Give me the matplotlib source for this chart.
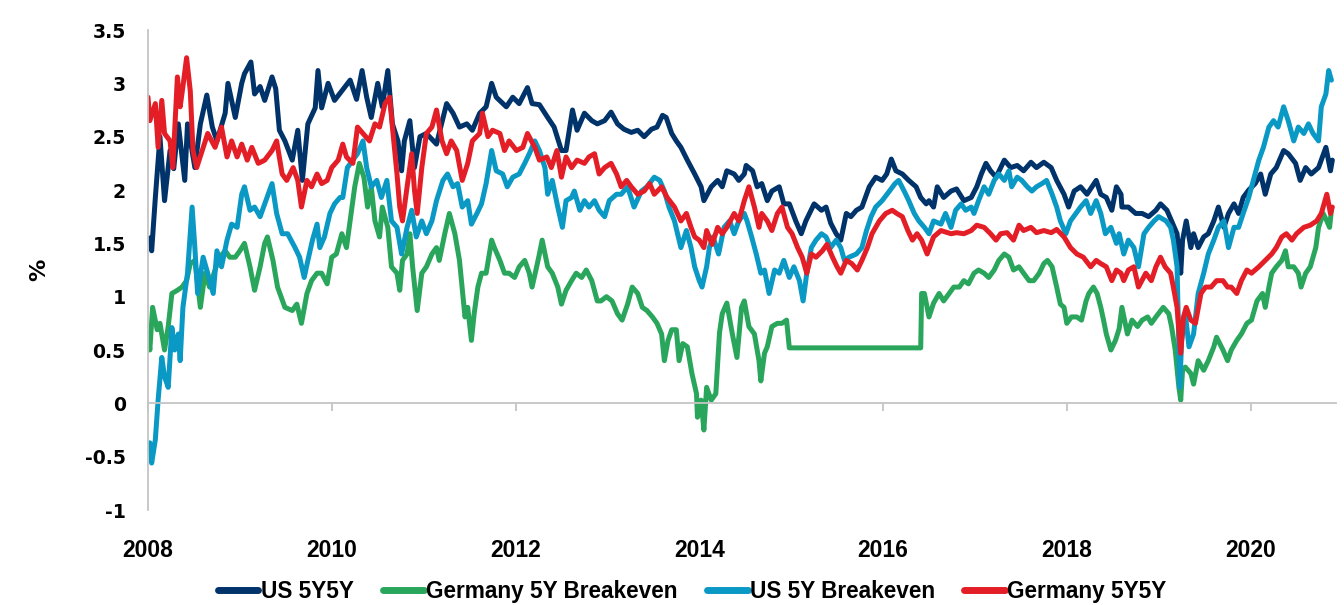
import matplotlib
matplotlib.use("Agg")
import matplotlib.pyplot as plt

# ---------------- data ----------------
us5y5y_dates = [2008.02, 2008.04, 2008.08, 2008.13, 2008.18, 2008.24, 2008.28, 2008.33, 2008.40, 2008.43,
                2008.51, 2008.57, 2008.64, 2008.70, 2008.75, 2008.84, 2008.87, 2008.95, 2009.02, 2009.05,
                2009.12, 2009.16, 2009.22, 2009.27, 2009.35, 2009.39, 2009.43, 2009.49, 2009.57, 2009.63,
                2009.68, 2009.74, 2009.82, 2009.85, 2009.89, 2009.96, 2010.03, 2010.11, 2010.20, 2010.27,
                2010.33, 2010.38, 2010.43, 2010.50, 2010.55, 2010.61, 2010.66, 2010.72, 2010.76, 2010.79,
                2010.85, 2010.90, 2010.96, 2011.03, 2011.14, 2011.25, 2011.32, 2011.39, 2011.47, 2011.53,
                2011.61, 2011.68, 2011.74, 2011.79, 2011.90, 2011.97, 2012.04, 2012.13, 2012.18, 2012.26,
                2012.35, 2012.42, 2012.50, 2012.55, 2012.59, 2012.62, 2012.67, 2012.75, 2012.83, 2012.89,
                2012.97, 2013.04, 2013.11, 2013.18, 2013.26, 2013.33, 2013.40, 2013.48, 2013.54, 2013.60,
                2013.64, 2013.70, 2013.75, 2013.80, 2013.87, 2013.95, 2014.02, 2014.05, 2014.13, 2014.20,
                2014.25, 2014.30, 2014.38, 2014.43, 2014.49, 2014.51, 2014.58, 2014.63, 2014.68, 2014.74,
                2014.79, 2014.87, 2014.92, 2014.98, 2015.05, 2015.11, 2015.16, 2015.25, 2015.33, 2015.38,
                2015.43, 2015.49, 2015.54, 2015.60, 2015.65, 2015.71, 2015.77, 2015.85, 2015.92, 2015.99,
                2016.04, 2016.09, 2016.14, 2016.21, 2016.28, 2016.36, 2016.41, 2016.47, 2016.50, 2016.55,
                2016.59, 2016.66, 2016.74, 2016.80, 2016.88, 2016.96, 2017.02, 2017.07, 2017.12, 2017.17,
                2017.23, 2017.32, 2017.39, 2017.46, 2017.53, 2017.61, 2017.67, 2017.75, 2017.83, 2017.89,
                2017.97, 2018.02, 2018.08, 2018.15, 2018.22, 2018.32, 2018.37, 2018.43, 2018.49, 2018.54,
                2018.59, 2018.60, 2018.67, 2018.75, 2018.82, 2018.89, 2018.97, 2019.02, 2019.09, 2019.14,
                2019.20, 2019.24, 2019.26, 2019.30, 2019.35, 2019.38, 2019.43, 2019.49, 2019.54, 2019.60,
                2019.65, 2019.71, 2019.76, 2019.82, 2019.87, 2019.92, 2019.98, 2020.05, 2020.11, 2020.16,
                2020.22, 2020.28, 2020.36, 2020.41, 2020.49, 2020.54, 2020.60, 2020.66, 2020.74, 2020.82,
                2020.87, 2020.89]
us5y5y_vals = [1.55, 1.43, 1.93, 2.50, 1.90, 2.37, 2.20, 2.62, 2.09, 2.62,
               2.21, 2.62, 2.89, 2.59, 2.46, 2.72, 3.00, 2.68, 3.00, 3.09,
               3.20, 2.90, 2.97, 2.84, 3.06, 2.95, 2.56, 2.46, 2.28, 2.56,
               2.09, 2.62, 2.77, 3.12, 2.77, 3.00, 2.84, 2.93, 3.03, 2.85,
               3.12, 2.87, 2.68, 3.00, 2.78, 3.12, 2.62, 2.46, 2.18, 2.46,
               2.65, 2.21, 2.50, 2.53, 2.43, 2.81, 2.72, 2.59, 2.62, 2.56,
               2.72, 2.78, 3.00, 2.87, 2.78, 2.87, 2.81, 2.96, 2.81, 2.80,
               2.68, 2.59, 2.37, 2.37, 2.59, 2.75, 2.56, 2.72, 2.65, 2.62,
               2.65, 2.73, 2.62, 2.57, 2.54, 2.56, 2.50, 2.57, 2.59, 2.70,
               2.68, 2.53, 2.46, 2.40, 2.28, 2.15, 2.03, 1.90, 2.03, 2.09,
               2.03, 2.18, 2.15, 2.09, 2.15, 2.23, 2.18, 2.03, 2.06, 1.90,
               1.99, 2.03, 1.87, 1.87, 1.71, 1.59, 1.71, 1.87, 1.81, 1.84,
               1.69, 1.59, 1.53, 1.78, 1.75, 1.81, 1.84, 2.03, 2.12, 2.09,
               2.15, 2.29, 2.18, 2.15, 2.09, 2.03, 1.93, 1.87, 1.90, 1.84,
               2.03, 1.93, 1.99, 2.01, 1.90, 1.93, 2.03, 2.15, 2.25, 2.18,
               2.12, 2.28, 2.21, 2.23, 2.18, 2.26, 2.21, 2.26, 2.21, 2.09,
               1.96, 1.84, 1.99, 2.03, 1.96, 2.09, 1.96, 1.93, 1.81, 2.03,
               1.96, 1.84, 1.84, 1.78, 1.78, 1.75, 1.81, 1.87, 1.81, 1.71,
               1.59, 1.22, 1.53, 1.71, 1.46, 1.59, 1.46, 1.56, 1.59, 1.71,
               1.84, 1.65, 1.78, 1.87, 1.78, 1.93, 2.00, 2.06, 2.15, 1.96,
               2.15, 2.21, 2.37, 2.34, 2.25, 2.09, 2.21, 2.15, 2.21, 2.40,
               2.18, 2.28]

de5ybe_dates = [2008.00, 2008.02, 2008.05, 2008.10, 2008.13, 2008.18, 2008.22, 2008.26, 2008.32, 2008.37,
                2008.42, 2008.46, 2008.51, 2008.57, 2008.62, 2008.67, 2008.73, 2008.78, 2008.84, 2008.89,
                2008.95, 2009.00, 2009.05, 2009.11, 2009.16, 2009.22, 2009.27, 2009.30, 2009.36, 2009.41,
                2009.49, 2009.57, 2009.62, 2009.67, 2009.73, 2009.78, 2009.84, 2009.89, 2009.95, 2010.00,
                2010.05, 2010.11, 2010.16, 2010.20, 2010.25, 2010.30, 2010.35, 2010.39, 2010.43, 2010.47,
                2010.52, 2010.55, 2010.61, 2010.65, 2010.71, 2010.74, 2010.77, 2010.82, 2010.85, 2010.88,
                2010.93, 2010.98, 2011.03, 2011.09, 2011.14, 2011.17, 2011.23, 2011.28, 2011.34, 2011.39,
                2011.45, 2011.48, 2011.52, 2011.55, 2011.59, 2011.63, 2011.68, 2011.74, 2011.77, 2011.83,
                2011.88, 2011.93, 2011.99, 2012.04, 2012.10, 2012.15, 2012.18, 2012.23, 2012.26, 2012.29,
                2012.35, 2012.40, 2012.46, 2012.50, 2012.55, 2012.61, 2012.66, 2012.72, 2012.77, 2012.83,
                2012.89, 2012.93, 2012.99, 2013.05, 2013.11, 2013.16, 2013.22, 2013.27, 2013.33, 2013.38,
                2013.43, 2013.49, 2013.54, 2013.59, 2013.62, 2013.66, 2013.70, 2013.75, 2013.78, 2013.82,
                2013.87, 2013.92, 2013.97, 2013.98, 2014.02, 2014.05, 2014.08, 2014.13, 2014.18, 2014.22,
                2014.25, 2014.30, 2014.36, 2014.41, 2014.46, 2014.49, 2014.54, 2014.60, 2014.65, 2014.67,
                2014.71, 2014.74, 2014.79, 2014.85, 2014.90, 2014.95, 2014.98, 2016.41, 2016.42, 2016.45,
                2016.48, 2016.50, 2016.55, 2016.61, 2016.66, 2016.72, 2016.77, 2016.83, 2016.88, 2016.93,
                2016.99, 2017.04, 2017.10, 2017.15, 2017.21, 2017.26, 2017.32, 2017.37, 2017.42, 2017.48,
                2017.53, 2017.59, 2017.64, 2017.70, 2017.75, 2017.79, 2017.84, 2017.89, 2017.93, 2017.97,
                2018.00, 2018.05, 2018.11, 2018.16, 2018.21, 2018.24, 2018.29, 2018.33, 2018.37, 2018.40,
                2018.43, 2018.48, 2018.53, 2018.57, 2018.60, 2018.66, 2018.71, 2018.77, 2018.82, 2018.88,
                2018.92, 2018.97, 2019.05, 2019.11, 2019.14, 2019.18, 2019.22, 2019.24, 2019.26, 2019.29,
                2019.35, 2019.38, 2019.43, 2019.49, 2019.54, 2019.60, 2019.63, 2019.70, 2019.75, 2019.79,
                2019.85, 2019.90, 2019.96, 2020.01, 2020.07, 2020.13, 2020.16, 2020.20, 2020.23, 2020.28,
                2020.34, 2020.38, 2020.41, 2020.47, 2020.52, 2020.55, 2020.60, 2020.65, 2020.71, 2020.74,
                2020.79, 2020.83, 2020.86, 2020.88]
de5ybe_vals = [0.66, 0.50, 0.90, 0.69, 0.75, 0.50, 0.72, 1.03, 1.06, 1.09,
               1.15, 1.31, 1.34, 0.90, 1.22, 1.09, 1.25, 1.37, 1.43, 1.37,
               1.37, 1.43, 1.50, 1.28, 1.06, 1.28, 1.50, 1.56, 1.34, 1.09,
               0.90, 0.87, 0.93, 0.75, 1.03, 1.15, 1.22, 1.22, 1.12, 1.37,
               1.40, 1.59, 1.46, 1.71, 2.03, 2.25, 2.12, 1.84, 2.03, 1.71,
               1.56, 1.84, 1.65, 1.28, 1.22, 1.06, 1.34, 1.40, 1.59, 1.28,
               0.87, 1.22, 1.28, 1.40, 1.46, 1.34, 1.59, 1.78, 1.59, 1.34,
               0.81, 0.90, 0.59, 0.84, 1.09, 1.22, 1.22, 1.53, 1.46, 1.34,
               1.22, 1.22, 1.18, 1.28, 1.34, 1.22, 1.09, 1.28, 1.40, 1.53,
               1.28, 1.22, 1.09, 0.93, 1.06, 1.15, 1.22, 1.18, 1.25, 1.15,
               0.96, 0.96, 1.00, 0.96, 0.84, 0.78, 0.93, 1.09, 1.03, 0.90,
               0.87, 0.81, 0.75, 0.65, 0.40, 0.59, 0.69, 0.69, 0.40, 0.56,
               0.53, 0.28, 0.09, -0.13, 0.03, -0.25, 0.15, 0.03, 0.09, 0.66,
               0.84, 0.94, 0.65, 0.43, 0.90, 0.96, 0.72, 0.65, 0.40, 0.21,
               0.47, 0.53, 0.72, 0.75, 0.75, 0.78, 0.52, 0.52, 1.03, 1.03,
               0.90, 0.81, 0.94, 1.03, 0.96, 1.03, 1.09, 1.09, 1.15, 1.12,
               1.22, 1.25, 1.22, 1.18, 1.25, 1.34, 1.40, 1.37, 1.25, 1.28,
               1.22, 1.15, 1.15, 1.22, 1.31, 1.34, 1.28, 1.09, 0.93, 0.90,
               0.75, 0.81, 0.81, 0.78, 0.96, 1.03, 1.09, 1.03, 0.90, 0.78,
               0.65, 0.50, 0.59, 0.70, 0.90, 0.65, 0.78, 0.72, 0.78, 0.81,
               0.75, 0.81, 0.90, 0.84, 0.72, 0.50, 0.15, 0.03, 0.31, 0.34,
               0.28, 0.18, 0.40, 0.31, 0.40, 0.53, 0.62, 0.50, 0.40, 0.50,
               0.59, 0.65, 0.75, 0.78, 0.96, 1.03, 0.90, 1.09, 1.22, 1.28,
               1.34, 1.43, 1.28, 1.28, 1.22, 1.09, 1.22, 1.28, 1.46, 1.65,
               1.78, 1.71, 1.65, 1.81]

us5ybe_dates = [2008.02, 2008.04, 2008.08, 2008.11, 2008.15, 2008.18, 2008.22, 2008.26, 2008.29, 2008.33,
                2008.35, 2008.38, 2008.43, 2008.48, 2008.51, 2008.54, 2008.60, 2008.65, 2008.71, 2008.75,
                2008.80, 2008.86, 2008.91, 2008.97, 2009.02, 2009.05, 2009.11, 2009.16, 2009.22, 2009.27,
                2009.35, 2009.40, 2009.46, 2009.52, 2009.60, 2009.65, 2009.70, 2009.74, 2009.79, 2009.84,
                2009.87, 2009.92, 2009.98, 2010.03, 2010.09, 2010.12, 2010.17, 2010.23, 2010.28, 2010.34,
                2010.38, 2010.43, 2010.49, 2010.54, 2010.60, 2010.65, 2010.71, 2010.76, 2010.82, 2010.87,
                2010.92, 2010.98, 2011.03, 2011.09, 2011.14, 2011.21, 2011.26, 2011.32, 2011.37, 2011.42,
                2011.48, 2011.52, 2011.58, 2011.63, 2011.68, 2011.74, 2011.79, 2011.86, 2011.91, 2011.97,
                2012.04, 2012.10, 2012.15, 2012.21, 2012.26, 2012.32, 2012.35, 2012.40, 2012.46, 2012.51,
                2012.55, 2012.61, 2012.64, 2012.70, 2012.75, 2012.80, 2012.86, 2012.91, 2012.97, 2013.02,
                2013.10, 2013.15, 2013.22, 2013.29, 2013.37, 2013.43, 2013.51, 2013.57, 2013.62, 2013.67,
                2013.73, 2013.80, 2013.86, 2013.91, 2013.95, 2014.00, 2014.03, 2014.08, 2014.11, 2014.15,
                2014.21, 2014.27, 2014.33, 2014.38, 2014.43, 2014.49, 2014.52, 2014.57, 2014.62, 2014.67,
                2014.71, 2014.76, 2014.82, 2014.87, 2014.92, 2014.98, 2015.03, 2015.09, 2015.13, 2015.17,
                2015.22, 2015.27, 2015.33, 2015.38, 2015.43, 2015.49, 2015.54, 2015.58, 2015.63, 2015.71,
                2015.77, 2015.82, 2015.87, 2015.92, 2015.99, 2016.07, 2016.13, 2016.17, 2016.23, 2016.28,
                2016.34, 2016.39, 2016.45, 2016.50, 2016.55, 2016.63, 2016.68, 2016.74, 2016.79, 2016.85,
                2016.90, 2016.96, 2016.99, 2017.04, 2017.10, 2017.15, 2017.21, 2017.26, 2017.32, 2017.37,
                2017.40, 2017.46, 2017.51, 2017.57, 2017.62, 2017.67, 2017.73, 2017.78, 2017.84, 2017.89,
                2017.93, 2017.99, 2018.04, 2018.10, 2018.15, 2018.21, 2018.26, 2018.32, 2018.37, 2018.42,
                2018.48, 2018.54, 2018.57, 2018.62, 2018.67, 2018.73, 2018.78, 2018.84, 2018.89, 2018.95,
                2019.00, 2019.08, 2019.13, 2019.16, 2019.20, 2019.23, 2019.25, 2019.29, 2019.33, 2019.38,
                2019.43, 2019.49, 2019.54, 2019.60, 2019.65, 2019.71, 2019.76, 2019.82, 2019.87, 2019.92,
                2019.98, 2020.03, 2020.09, 2020.14, 2020.20, 2020.25, 2020.30, 2020.36, 2020.41, 2020.47,
                2020.52, 2020.58, 2020.63, 2020.68, 2020.74, 2020.77, 2020.82, 2020.85, 2020.88]
us5ybe_vals = [-0.37, -0.56, -0.34, 0.03, 0.43, 0.25, 0.15, 0.71, 0.50, 0.65,
               0.40, 0.90, 1.22, 1.84, 1.46, 1.03, 1.37, 1.22, 1.03, 1.43,
               1.28, 1.53, 1.68, 1.65, 1.96, 2.03, 1.81, 1.84, 1.75, 1.87,
               2.06, 1.78, 1.59, 1.59, 1.46, 1.37, 1.18, 1.34, 1.53, 1.68,
               1.46, 1.56, 1.78, 1.87, 1.93, 1.93, 2.21, 2.28, 2.34, 2.46,
               2.21, 2.03, 2.09, 1.93, 2.09, 1.71, 1.65, 1.40, 1.65, 1.81,
               1.56, 1.71, 1.59, 1.71, 1.90, 2.09, 2.15, 2.03, 2.06, 1.84,
               1.90, 1.68, 1.78, 1.87, 2.06, 2.37, 2.18, 2.15, 2.03, 2.12,
               2.15, 2.25, 2.34, 2.46, 2.37, 2.21, 1.96, 2.09, 1.84, 1.65,
               1.90, 1.93, 1.99, 1.81, 1.90, 1.84, 1.90, 1.81, 1.75, 1.90,
               1.96, 1.96, 2.03, 1.84, 1.99, 2.03, 2.12, 2.09, 1.99, 1.84,
               1.71, 1.46, 1.62, 1.46, 1.28, 1.15, 1.09, 1.28, 1.46, 1.56,
               1.40, 1.65, 1.71, 1.59, 1.71, 1.78, 1.71, 1.56, 1.40, 1.22,
               1.25, 1.03, 1.25, 1.22, 1.34, 1.18, 1.28, 1.15, 0.96, 1.22,
               1.46, 1.53, 1.59, 1.56, 1.46, 1.53, 1.46, 1.34, 1.37, 1.40,
               1.46, 1.62, 1.75, 1.84, 1.90, 1.99, 2.06, 2.09, 1.99, 1.90,
               1.78, 1.71, 1.65, 1.59, 1.71, 1.68, 1.78, 1.65, 1.81, 1.87,
               1.81, 1.84, 1.78, 1.90, 2.03, 1.96, 2.09, 2.15, 2.09, 2.18,
               2.03, 2.12, 2.09, 2.03, 1.99, 2.03, 2.06, 2.09, 1.96, 1.84,
               1.71, 1.59, 1.71, 1.78, 1.84, 1.90, 1.78, 1.90, 1.78, 1.59,
               1.65, 1.50, 1.59, 1.40, 1.53, 1.46, 1.28, 1.59, 1.65, 1.71,
               1.75, 1.71, 1.65, 1.53, 1.28, 0.15, 0.59, 0.84, 0.53, 0.65,
               1.03, 1.22, 1.40, 1.53, 1.65, 1.71, 1.46, 1.65, 1.65, 1.78,
               1.93, 2.09, 2.28, 2.40, 2.59, 2.65, 2.59, 2.78, 2.65, 2.46,
               2.59, 2.53, 2.62, 2.53, 2.46, 2.78, 2.90, 3.12, 3.03]

de5y5y_dates = [2008.00, 2008.02, 2008.08, 2008.11, 2008.15, 2008.18, 2008.24, 2008.27, 2008.32, 2008.35,
                2008.38, 2008.42, 2008.46, 2008.49, 2008.53, 2008.59, 2008.65, 2008.73, 2008.80, 2008.86,
                2008.91, 2008.97, 2009.02, 2009.08, 2009.13, 2009.20, 2009.27, 2009.35, 2009.40, 2009.46,
                2009.51, 2009.58, 2009.63, 2009.67, 2009.73, 2009.78, 2009.84, 2009.89, 2009.95, 2010.00,
                2010.07, 2010.12, 2010.16, 2010.23, 2010.28, 2010.34, 2010.41, 2010.47, 2010.52, 2010.58,
                2010.63, 2010.66, 2010.71, 2010.74, 2010.77, 2010.82, 2010.87, 2010.90, 2010.93, 2010.98,
                2011.03, 2011.09, 2011.14, 2011.20, 2011.25, 2011.30, 2011.36, 2011.42, 2011.48, 2011.53,
                2011.61, 2011.64, 2011.70, 2011.75, 2011.83, 2011.88, 2011.93, 2012.01, 2012.08, 2012.13,
                2012.21, 2012.26, 2012.34, 2012.39, 2012.45, 2012.50, 2012.55, 2012.61, 2012.67, 2012.75,
                2012.80, 2012.86, 2012.91, 2012.97, 2013.04, 2013.10, 2013.15, 2013.21, 2013.26, 2013.33,
                2013.40, 2013.46, 2013.51, 2013.59, 2013.65, 2013.73, 2013.80, 2013.86, 2013.91, 2013.95,
                2014.00, 2014.05, 2014.08, 2014.14, 2014.20, 2014.25, 2014.30, 2014.38, 2014.43, 2014.49,
                2014.54, 2014.60, 2014.65, 2014.68, 2014.74, 2014.79, 2014.85, 2014.90, 2014.96, 2015.01,
                2015.07, 2015.12, 2015.17, 2015.22, 2015.27, 2015.34, 2015.39, 2015.45, 2015.50, 2015.54,
                2015.60, 2015.66, 2015.72, 2015.77, 2015.83, 2015.88, 2015.96, 2016.03, 2016.10, 2016.15,
                2016.21, 2016.27, 2016.32, 2016.37, 2016.42, 2016.48, 2016.55, 2016.63, 2016.74, 2016.80,
                2016.88, 2016.96, 2017.02, 2017.10, 2017.17, 2017.23, 2017.28, 2017.35, 2017.42, 2017.48,
                2017.53, 2017.61, 2017.67, 2017.75, 2017.83, 2017.89, 2017.97, 2018.04, 2018.11, 2018.18,
                2018.26, 2018.32, 2018.37, 2018.43, 2018.49, 2018.54, 2018.59, 2018.62, 2018.67, 2018.73,
                2018.78, 2018.86, 2018.92, 2018.97, 2019.02, 2019.07, 2019.13, 2019.16, 2019.20, 2019.24,
                2019.27, 2019.30, 2019.35, 2019.40, 2019.46, 2019.51, 2019.57, 2019.63, 2019.70, 2019.75,
                2019.79, 2019.85, 2019.90, 2019.96, 2020.01, 2020.09, 2020.16, 2020.23, 2020.28, 2020.34,
                2020.39, 2020.45, 2020.50, 2020.58, 2020.65, 2020.72, 2020.77, 2020.83, 2020.87, 2020.89]
de5y5y_vals = [2.87, 2.65, 2.81, 2.40, 2.84, 2.53, 2.46, 2.21, 3.06, 2.78,
               2.97, 3.24, 2.93, 2.37, 2.21, 2.37, 2.53, 2.40, 2.59, 2.31,
               2.46, 2.31, 2.43, 2.28, 2.40, 2.25, 2.28, 2.37, 2.46, 2.15,
               2.09, 2.21, 2.09, 1.84, 2.09, 2.03, 2.15, 2.06, 2.09, 2.21,
               2.28, 2.43, 2.31, 2.25, 2.59, 2.53, 2.46, 2.62, 2.59, 2.81,
               2.87, 2.59, 2.15, 1.84, 1.71, 2.03, 2.34, 2.00, 1.78, 2.21,
               2.53, 2.59, 2.75, 2.46, 2.34, 2.46, 2.37, 2.09, 2.25, 2.46,
               2.53, 2.72, 2.50, 2.56, 2.53, 2.37, 2.46, 2.37, 2.40, 2.53,
               2.40, 2.28, 2.31, 2.21, 2.37, 2.12, 2.31, 2.21, 2.28, 2.25,
               2.31, 2.34, 2.15, 2.21, 2.25, 2.15, 2.03, 2.09, 2.03, 1.96,
               1.99, 2.06, 1.96, 2.03, 1.93, 1.84, 1.71, 1.78, 1.65, 1.56,
               1.53, 1.46, 1.62, 1.49, 1.65, 1.59, 1.65, 1.78, 1.71, 1.90,
               2.03, 1.84, 1.65, 1.78, 1.71, 1.62, 1.78, 1.84, 1.65, 1.59,
               1.46, 1.37, 1.22, 1.40, 1.37, 1.43, 1.49, 1.37, 1.28, 1.22,
               1.34, 1.31, 1.25, 1.34, 1.46, 1.59, 1.71, 1.78, 1.81, 1.78,
               1.75, 1.62, 1.53, 1.59, 1.53, 1.40, 1.56, 1.62, 1.59, 1.60,
               1.59, 1.62, 1.67, 1.65, 1.59, 1.53, 1.59, 1.60, 1.53, 1.67,
               1.62, 1.65, 1.60, 1.62, 1.60, 1.63, 1.56, 1.46, 1.40, 1.37,
               1.28, 1.34, 1.31, 1.28, 1.15, 1.25, 1.22, 1.15, 1.25, 1.28,
               1.09, 1.22, 1.15, 1.28, 1.37, 1.28, 1.22, 1.09, 0.90, 0.47,
               0.81, 0.90, 0.78, 0.75, 1.03, 1.09, 1.09, 1.15, 1.15, 1.09,
               1.09, 1.03, 1.15, 1.25, 1.22, 1.28, 1.34, 1.40, 1.46, 1.56,
               1.59, 1.53, 1.59, 1.65, 1.67, 1.71, 1.78, 1.96, 1.78, 1.84]

series_names = ["US 5Y5Y", "Germany 5Y Breakeven", "US 5Y Breakeven", "Germany 5Y5Y"]
series_colors = ["#00336A", "#2AA65C", "#0A98C4", "#E31E26"]
year_ticks = [2008, 2010, 2012, 2014, 2016, 2018, 2020]
year_labels = ["2008", "2010", "2012", "2014", "2016", "2018", "2020"]
y_ticks = [-1, -0.5, 0, 0.5, 1, 1.5, 2, 2.5, 3, 3.5]
y_labels = ["-1", "-0.5", "0", "0.5", "1", "1.5", "2", "2.5", "3", "3.5"]

# ---------------- figure ----------------
fig = plt.figure(figsize=(13.44, 6.05), dpi=100)
ax = fig.add_axes([148 / 1344, 1 - 510 / 605, (1336 - 148) / 1344, 480 / 605])

all_dates = [us5y5y_dates, de5ybe_dates, us5ybe_dates, de5y5y_dates]
all_vals = [us5y5y_vals, de5ybe_vals, us5ybe_vals, de5y5y_vals]
for d, v, name, col in zip(all_dates, all_vals, series_names, series_colors):
    ax.plot(d, v, color=col, lw=3.6, label=name, solid_joinstyle="round",
            solid_capstyle="round")

ax.set_xlim(2008.0, 2020.93)
ax.set_ylim(-1, 3.5)

grey = "#C4C4C4"
for s in ["top", "right"]:
    ax.spines[s].set_visible(False)
ax.spines["left"].set_color(grey)
ax.spines["left"].set_linewidth(1.3)
ax.spines["bottom"].set_position(("data", 0))
ax.spines["bottom"].set_color(grey)
ax.spines["bottom"].set_linewidth(1.3)

ax.set_xticks(year_ticks)
ax.tick_params(axis="x", direction="out", length=6, width=1.3, color=grey,
               labelbottom=False)
ax.set_yticks(y_ticks)
ax.set_yticklabels(y_labels)
ax.tick_params(axis="y", length=0, pad=16)
for lab in ax.get_yticklabels():
    lab.set_fontfamily("DejaVu Sans")
    lab.set_fontweight("bold")
    lab.set_fontsize(13.6)

sec = ax.secondary_xaxis(0.0)
sec.set_xticks(year_ticks)
sec.set_xticklabels(year_labels)
sec.tick_params(axis="x", length=0, pad=21)
sec.spines["bottom"].set_visible(False)
for lab in sec.get_xticklabels():
    lab.set_fontfamily("Liberation Sans")
    lab.set_fontweight("bold")
    lab.set_fontsize(16.5)

ax.set_ylabel("%", fontfamily="DejaVu Sans", fontweight="bold", fontsize=16)
ax.yaxis.set_label_coords(-0.083, 0.5)

leg = fig.legend(loc="center", bbox_to_anchor=(0.515, 0.022), ncol=4, frameon=False,
                 handlelength=1.8, handletextpad=0.1, columnspacing=1.3,
                 prop={"family": "Liberation Sans", "weight": "bold", "size": 16.3})
for h in leg.get_lines():
    h.set_linewidth(5)

fig.savefig("out.png", dpi=100)
